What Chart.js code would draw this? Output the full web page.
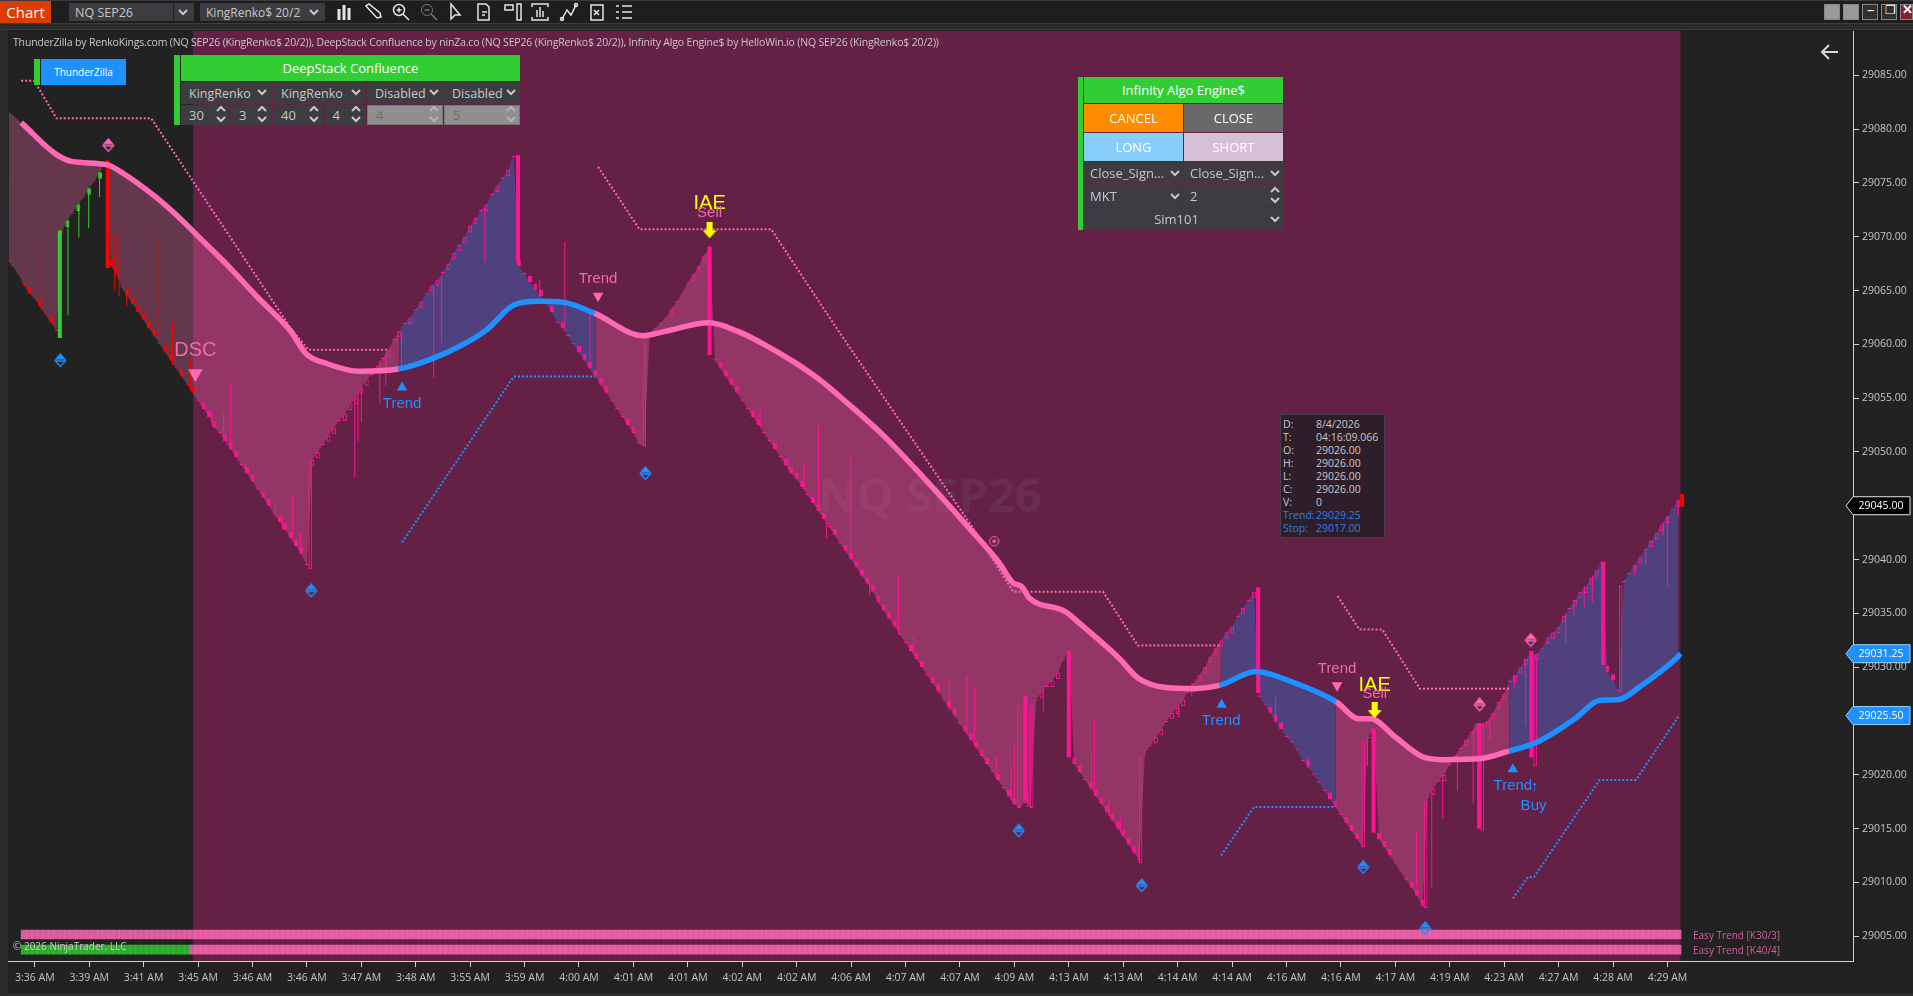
<!DOCTYPE html>
<html>
<head>
<meta charset="utf-8">
<title>NQ SEP26</title>
<script src="https://cdn.jsdelivr.net/npm/chart.js@4"></script>
<style>
  html, body { margin: 0; padding: 0; background: #222222; overflow: hidden; }
  body { width: 1913px; height: 996px; position: relative; font-family: "Open Sans", sans-serif; }
  canvas { position: absolute; left: 0; top: 0; }
  .b { position: absolute; display: flex; align-items: center; justify-content: center; white-space: nowrap; box-sizing: border-box; }
  .t { position: absolute; white-space: nowrap; }
  svg { position: absolute; }
</style>
</head>
<body>
<div class="b" style="left:0;top:0;width:8px;height:996px;background:#2b2b2b"></div>
<canvas id="chart" width="1913" height="996"></canvas>
<div id="ui"></div>
<script>
// bars are numbered so that bar 0 is the first tick on the time axis
const firstBar = -5;
const barClose = [
  29067.75,29067.25,29066.5,29065.5,29064.75,29064.25,29063.5,29062.75,29062,29061.25,
  29070.5,29071.5,29072.25,29073,29073.75,29074.5,29075.25,29076,29077,29067.25,
  29066.5,29065.25,29064.5,29063.75,29063,29062.25,29061.5,29060.75,29060,29059.25,
  29058.5,29057.75,29057,29056.25,29055.5,29054.75,29054,29053.25,29052.25,29051.75,
  29051,29050.25,29049.5,29048.75,29048,29047.25,29046.5,29045.75,29045,29044.25,
  29043.5,29042.75,29042,29041.25,29040.5,29039.5,29049.25,29050,29050.75,29051.5,
  29052.25,29053,29053.5,29054.5,29055,29056,29056.75,29057.25,29058,29058.75,
  29059.5,29060.5,29061.25,29062,29062.5,29063.25,29064,29064.75,29065.5,29066,
  29066.75,29067.5,29068.5,29069.25,29070,29071,29071.75,29072.5,29073,29074,
  29074.75,29075.5,29076.25,29077.5,29067.25,29066.5,29065.75,29065,29064.5,29063.75,
  29063,29062,29061.5,29060.75,29060,29059.25,29058.5,29057.75,29057,29056.25,
  29055.5,29054.75,29054,29053.25,29052.5,29051.75,29050.75,29050.5,29061,29061.5,
  29062,29062.5,29063.25,29064,29064.75,29065.75,29066.5,29067.25,29068.25,29069,
  29058.5,29057.75,29057,29056.25,29055.5,29054.75,29054,29053.25,29052.5,29051.75,
  29051,29050.25,29049.5,29048.75,29048,29047.5,29046.75,29046,29045.25,29044.5,
  29043.75,29043,29042.25,29041.5,29040.75,29040,29039.25,29038.5,29037.75,29037,
  29036,29035.25,29034.5,29033.75,29033,29032.25,29031.5,29030.75,29030,29029.25,
  29028.5,29027.75,29027,29026.25,29025.5,29024.75,29024,29023.25,29022.5,29021.75,
  29021,29020.25,29019.5,29018.75,29018,29017.25,29017,29017.5,29017,29027,
  29027.75,29028.25,29028.75,29029.5,29030.75,29031.5,29021,29020.25,29019.5,29018.75,
  29018,29017.25,29016.5,29015.75,29015,29014.25,29013.5,29012.75,29012,29022,
  29022.75,29023.5,29024.25,29025,29025.75,29026.25,29027,29027.75,29028.5,29029.25,
  29030,29031,29031.75,29032.5,29033.25,29033.75,29034.75,29035.5,29036.25,29037,
  29027.25,29026.5,29025.75,29025,29024.25,29023.5,29023,29022.25,29021.25,29020.75,
  29020,29019.25,29018.5,29017.75,29017,29016.25,29015.5,29014.75,29014,29013.25,
  29023.5,29024.25,29014,29013.25,29012.5,29011.75,29011,29010.25,29009.5,29008.75,
  29007.75,29018,29018.75,29019.5,29020,29021,29021.75,29022.5,29023.25,29024,
  29024.75,29024.75,29025,29025.75,29026.75,29027.5,29028.75,29029.25,29030,29030.75,
  29031.25,29031.25,29031.75,29032.75,29033.25,29033.75,29034.75,29035.5,29036.25,29037,
  29037.5,29038.25,29039,29039.75,29029.5,29028.75,29027.75,29038,29038.75,29039.5,
  29040.25,29041,29041.75,29042.5,29043.25,29044,29044.75,29045.5
];
// bars whose body is a real brick, everything else is only a dash
const boxBars = [-1,1,3,6,8,10,12,14,15,17,18,19,20,21,22,24,25,27,29,31,32,33,35,36,37,39,40,42,43,45,46,47,48,49,
  51,52,54,55,57,58,59,60,61,63,65,67,69,71,73,74,76,77,78,79,80,81,83,85,87,89,91,92,93,95,97,100,101,102,103,104,105,109,110,
  117,121,122,123,126,127,128,129,132,133,136,138,139,140,141,143,144,145,147,149,150,151,152,153,154,155,156,157,158,161,162,
  163,165,166,168,169,171,172,173,174,175,177,179,180,185,187,188,191,192,194,195,196,197,198,199,200,201,202,
  206,207,209,210,211,213,214,215,216,217,218,219,220,222,224,227,228,229,234,238,239,241,242,243,
  247,248,249,253,254,255,257,259,261,263,265,267,268,269,270,272,273,274,276,278,279,280,281,283,284,285,286,287,
  289,290,294,295,297,298,299,300,302];

const trendBars = [-4.8,-2.5,3.8,6.8,13.2,16.2,22.2,26.7,29.7,35.7,40.9,46.9,49.9,53.7,59.6,66.8,73.2,78.4,82.9,88.2,92.7,97.2,102.8,
  111.8,115.8,123.9,129.2,134,139.7,144.5,149.4,156.2,163.7,171.2,177.2,179.8,181.3,182.8,189.2,192.6,199.3,202.7,207.9,213.1,217.7,224.4,231.2,
  239.1,243.3,245.5,250,254.9,259,265.7,270.9,275.5,278.5,283,287.5,291.1,295,301.4,302.4];
const trendValues = [29081.6,29080.6,29077.7,29077,29076.7,29075.9,29073.7,29071.7,29070.2,29067.2,29064.4,29061.3,29059.1,29058.2,29057.5,29057.7,29058.7,29059.9,29061.3,29063.7,29064,29063.9,29062.9,
  29060.8,29061.2,29062,29061.2,29060,29058.3,29056.6,29054.5,29051.4,29047.4,29043.2,29039.7,29037.8,29037.5,29036.4,29035.2,29033.8,29030.8,29029,29028.1,29028,29028.3,29029.6,29028.6,
  29026.8,29025.2,29025.2,29023.5,29021.7,29021.4,29021.5,29022.2,29022.9,29023.7,29025.2,29026.9,29027,29028.2,29030.7,29031.25];
const trendUpFrom = [66.8,217.7,270.9];
const trendUpTo = [102.8,239.1,302.4];
const cloudLag = 0.7;

const solidBars = [4.6,13.4,88.8,124,182,190,224.8,246,265.4,275,288.2,302.7];
const solidLows = [29060.6,29067.1,29067.6,29059,29017.6,29021.6,29027.6,29014.6,29015,29021.6,29030.2,29044.9];
const solidHighs = [29070.6,29077.1,29077.6,29069.1,29027.3,29031.5,29037.4,29024.3,29024.8,29031.5,29039.8,29046.1];
const hollowBars = [50.6,112,180.8,183.2,203.2,244.1,255.6,266,275.7,291.4];
const hollowLows = [29039.1,29050.5,29016.9,29016.9,29011.8,29013.3,29007.6,29014.8,29020.8,29027.7];
const hollowHighs = [29049.1,29060.1,29026.5,29026.5,29021.6,29023.1,29017.5,29024.6,29031,29037.6];

const wickBars = [1.2,14.7,15.5,16.9,20.7,22.6,25.3,28.6,6.1,8.1,9.9,11.9,32.6,34.7,36,38.7,44.2,45.5,47.4,48.8,58.8,59.4,60,63.4,64.5,67.4,73.3,74.7,82.7,92.8,97.4,102,
  133.3,138.6,141.4,144,145.5,150,153.4,158.7,161.5,166,168,171.3,172.7,176.7,179.4,180,182.4,185.3,194.2,194.7,197.4,199.5,202.8,210.2,212.6,228,233.9,244.9,
  253.9,256.7,258.7,261.4,264.3,267.4,271.9,273.9,281.3,282.8,284.7,286.2,294,296,299.2,300,302];
const wickLows = [29063.2,29065,29064.5,29063.5,29061.5,29060.5,29058.1,29055.8,29062.7,29069.9,29070.8,29073.7,29052.5,29051,29050.2,29048,29044,29042.8,29041.8,29040.6,29047.6,29051,29052.8,29054.5,29056.2,29058,29056.9,29060.1,29067.6,29064.4,29061.2,29058,
  29052.3,29048.3,29046.5,29044.6,29042,29040,29036.7,29033,29031.1,29027.6,29026,29023.7,29022.6,29019.7,29017.6,29017.2,29017,29025.8,29018.6,29018.1,29016.1,29014.6,29012,29025.3,29027.3,29024.8,29020.6,29020.8,
  29009.6,29009.5,29016,29018.5,29017.3,29023.2,29028,29024.5,29032.3,29034.8,29035.5,29036,29038.5,29039.5,29042.3,29037.4,29044];
const wickHighs = [29068.8,29070.3,29070.3,29065,29069.5,29070,29062,29058.7,29071.6,29073.1,29074.5,29076,29053.7,29053.6,29056.5,29049,29045.2,29044,29046,29042.5,29055.1,29055.6,29056.1,29058.5,29059.5,29061,29065.4,29066.3,29072.7,29066,29069.5,29063,
  29054,29049.7,29049,29052.5,29043.5,29049.5,29038,29038.4,29033,29028.5,29029,29029.2,29028.2,29021.7,29020.8,29023,29018.5,29028,29022,29025.2,29017.7,29016,29013.5,29026.5,29028.5,29027.2,29021.7,29023.5,
  29014.6,29018.4,29020,29022,29024.2,29025.3,29029.2,29030.7,29035,29036,29037.5,29038.5,29039.5,29040.9,29043.5,29044,29045.5];

// dotted stop lines
const pinkStopBars = [[-2.5,-0.1,4,21.4,47.3,50.3,64.8],[103.5,111.1,135.3,147.6,172.7,179.8,196.3,202.7,217.7],[239.4,243.4,247.6,254.5,271]];
const pinkStopValues = [[29084.5,29084.5,29081,29081,29061.3,29059.5,29059.5],[29076.5,29070.7,29070.7,29061.3,29042.7,29037,29037,29032,29032],[29036.6,29033.5,29033.5,29028,29028]];
const blueStopBars = [[67.5,88,103],[218,224,238.7],[271.6,274.4,275.5,287.5,294.2,302]];
const blueStopValues = [[29041.6,29057,29057],[29012.5,29017,29017],[29008.5,29010.5,29010.5,29019.5,29019.5,29025.4]];

// markers on the chart
const blueDiamondBars = [4.7,50.8,112.2,180.8,203.4,244.1,255.5];
const blueDiamondPrices = [29058.5,29037.1,29048,29014.8,29009.7,29011.4,29005.7];
const pinkDiamondBars = [13.5,265.5,274.9];
const pinkDiamondPrices = [29078.5,29026.5,29032.5];
const targetBars = [176.3];
const targetPrices = [29041.7];
const downTriangleBars = [103.5,239.3];
const downTrianglePrices = [29064.5,29028.3];
const dscTriangleBars = [29.5];
const dscTrianglePrices = [29057.3];
const upTriangleBars = [67.5,218.1,271.6];
const upTrianglePrices = [29056,29026.5,29020.5];
const sellArrowBars = [124,246.2];
const sellArrowPrices = [29070.6,29026];

const labelTexts = ['DSC','Trend','Trend','IAE','Sell','Trend','Trend','IAE','Sell','Trend','Buy','↑'];
const labelBars = [29.5,67.5,103.5,124,124,218,239.3,246.2,246.2,271.6,275.4,275.6];
const labelPrices = [29059.4,29054.5,29066.1,29073.1,29072.2,29025,29029.8,29028.3,29027.5,29019,29017.1,29018.9];
const labelKinds = ['dsc','blue','pink','iae','sell','blue','pink','iae','sell','blue','blue','blue'];

const timeLabels = ['3:36 AM','3:39 AM','3:41 AM','3:45 AM','3:46 AM','3:46 AM','3:47 AM','3:48 AM','3:55 AM','3:59 AM','4:00 AM','4:01 AM','4:01 AM','4:02 AM','4:02 AM','4:06 AM',
  '4:07 AM','4:07 AM','4:09 AM','4:13 AM','4:13 AM','4:14 AM','4:14 AM','4:16 AM','4:16 AM','4:17 AM','4:19 AM','4:23 AM','4:27 AM','4:28 AM','4:29 AM'];
const priceTags = [29045,29031.25,29025.5];
const plumFromBar = 29.1;
const plumToBar = 302.4;
const stripFirstBar = -2;
const stripLastBar = 302;
const k40GreenToBar = 28;
const k30Band = [29004.7,29005.6];
const k40Band = [29003.3,29004.2];

const PINK = '#ff69b4', BLUE = '#1e90ff', DEEP = '#ff1493';

function xy(bars, vals) { return bars.map((x, i) => ({ x: x, y: vals[i] })); }
function floats(bars, lows, highs) { return bars.map((x, i) => ({ x: x, y: [lows[i], highs[i]] })); }
function isTrendUp(x) { return trendUpFrom.some((f, i) => x > f && x <= trendUpTo[i]); }
function barColor(x, up) {
  if (x < plumFromBar) return up ? '#32cd32' : '#ff0000';
  return DEEP;
}
function icon(w, h, draw) {
  const c = document.createElement('canvas');
  c.width = w; c.height = h;
  draw(c.getContext('2d'));
  return c;
}
function diamond(color) {
  return icon(13, 15, g => {
    g.strokeStyle = color; g.fillStyle = color; g.lineWidth = 1.3;
    g.beginPath(); g.moveTo(6.5, 1); g.lineTo(11.5, 6.5); g.lineTo(1.5, 6.5); g.closePath(); g.fill();
    g.beginPath(); g.moveTo(1.5, 8); g.lineTo(6.5, 13.5); g.lineTo(11.5, 8); g.closePath(); g.stroke();
    g.beginPath(); g.moveTo(1.5, 7); g.lineTo(6.5, 1); g.lineTo(11.5, 7); g.stroke();
  });
}
const targetIcon = icon(12, 12, g => {
  g.strokeStyle = PINK; g.fillStyle = PINK; g.lineWidth = 1;
  g.beginPath(); g.arc(6, 6, 4.6, 0, Math.PI * 2); g.stroke();
  g.beginPath(); g.arc(6, 6, 1.8, 0, Math.PI * 2); g.fill();
});
const sellArrowIcon = icon(14, 16, g => {
  g.fillStyle = '#ffff00';
  g.beginPath();
  g.moveTo(4, 0); g.lineTo(10, 0); g.lineTo(10, 8); g.lineTo(14, 8); g.lineTo(7, 16); g.lineTo(0, 8); g.lineTo(4, 8);
  g.closePath(); g.fill();
});

// per bar bodies from the closes
const bodyData = [], bodyFill = [], bodyBorder = [];
barClose.forEach((c, n) => {
  const x = firstBar + n;
  const up = n > 0 && c >= barClose[n - 1];
  const box = boxBars.includes(x);
  const col = barColor(x, up && box);
  const h = box ? 0.6 : 0.12;
  bodyData.push({ x: x, y: up ? [c - h, c] : [c, c + h] });
  bodyBorder.push(col);
  bodyFill.push(box && up && x >= plumFromBar ? 'transparent' : col);
});

const stripBars = [];
for (let x = stripFirstBar; x <= stripLastBar; x++) stripBars.push(x);

const stopDatasets = [];
pinkStopBars.forEach((b, i) => stopDatasets.push(stopLine(b, pinkStopValues[i], PINK)));
blueStopBars.forEach((b, i) => stopDatasets.push(stopLine(b, blueStopValues[i], BLUE)));
function stopLine(bars, vals, color) {
  return { type: 'line', data: xy(bars, vals), borderColor: color, borderWidth: 2, borderDash: [2, 2], pointRadius: 0, fill: false, order: 9 };
}
function markers(bars, vals, style, radius, color, rotation) {
  return { type: 'line', data: xy(bars, vals), showLine: false, pointStyle: style, pointRadius: radius, pointBackgroundColor: color, pointBorderColor: color,
    pointBorderWidth: 0, pointRotation: rotation || 0, order: 1 };
}

const datasets = [
  { type: 'line', label: 'Trend', data: xy(trendBars, trendValues), borderWidth: 5.5, borderColor: PINK, pointRadius: 0, fill: false, order: 3, cubicInterpolationMode: 'monotone',
    segment: { borderColor: c => c.p0.parsed.x < -3 ? 'transparent' : (isTrendUp(c.p1.parsed.x) ? BLUE : PINK) } },
  { type: 'line', label: 'Price', data: barClose.map((c, n) => ({ x: firstBar + n, y: c })), borderWidth: 0, borderColor: 'transparent', pointRadius: 0,
    backgroundColor: 'rgba(255,105,180,0.3)', fill: { target: 0 }, order: 10,
    segment: { backgroundColor: c => isTrendUp(c.p1.parsed.x - cloudLag) ? 'rgba(30,144,255,0.3)' : 'rgba(255,105,180,0.3)' } },
  ...stopDatasets,
  { type: 'bar', label: 'Easy Trend K30', data: stripBars.map(x => ({ x: x, y: k30Band })), backgroundColor: 'rgba(255,105,180,0.82)', barThickness: 6.2, order: 5, borderSkipped: false, inflateAmount: 0 },
  { type: 'bar', label: 'Easy Trend K40', data: stripBars.map(x => ({ x: x, y: k40Band })), backgroundColor: stripBars.map(x => x <= k40GreenToBar ? 'rgba(50,205,50,0.8)' : 'rgba(255,105,180,0.82)'), barThickness: 6.2, order: 5, borderSkipped: false, inflateAmount: 0 },
  { type: 'bar', label: 'Wicks', data: floats(wickBars, wickLows, wickHighs), backgroundColor: wickBars.map(x => barColor(x, x > 5 && x < 13)), barThickness: 1, order: 8, inflateAmount: 0 },
  { type: 'bar', label: 'Bodies', data: bodyData, backgroundColor: bodyFill, borderColor: bodyBorder, borderWidth: 1, borderSkipped: false, barThickness: 4, minBarLength: 1, order: 7, inflateAmount: 0 },
  { type: 'bar', label: 'Solid', data: floats(solidBars, solidLows, solidHighs), backgroundColor: solidBars.map(x => x < 5 ? '#32cd32' : (x < plumFromBar || x > plumToBar ? '#ff0000' : DEEP)), barThickness: 4, order: 6, inflateAmount: 0 },
  { type: 'bar', label: 'Hollow', data: floats(hollowBars, hollowLows, hollowHighs), backgroundColor: 'transparent', borderColor: DEEP, borderWidth: 1, borderSkipped: false, barThickness: 3.5, order: 6, inflateAmount: 0 },
  markers(blueDiamondBars, blueDiamondPrices, diamond(BLUE), 6, BLUE),
  markers(pinkDiamondBars, pinkDiamondPrices, diamond(PINK), 6, PINK),
  markers(targetBars, targetPrices, targetIcon, 6, PINK),
  markers(downTriangleBars, downTrianglePrices, 'triangle', 6.2, PINK, 180),
  markers(dscTriangleBars, dscTrianglePrices, 'triangle', 8.5, PINK, 180),
  markers(upTriangleBars, upTrianglePrices, 'triangle', 6, BLUE),
  markers(sellArrowBars, sellArrowPrices, sellArrowIcon, 7, '#ffff00')
];

const labelStyles = {
  dsc: { font: '20px "Liberation Sans"', color: '#ee6aa8' },
  blue: { font: '15px "Liberation Sans"', color: BLUE },
  pink: { font: '15px "Liberation Sans"', color: '#ee6aa8' },
  iae: { font: '20px "Liberation Sans"', color: '#ffff00' },
  sell: { font: '15px "Liberation Sans"', color: '#ee6aa8' }
};

const chartDressing = {
  id: 'chartDressing',
  beforeDatasetsDraw(chart) {
    const { ctx, chartArea: a, scales: { x, y } } = chart;
    ctx.save();
    const l = x.getPixelForValue(plumFromBar), r = x.getPixelForValue(plumToBar);
    ctx.fillStyle = '#652045';
    ctx.fillRect(l, a.top, r - l, a.bottom - a.top);
    ctx.fillStyle = 'rgba(140,140,140,0.13)';
    ctx.font = 'bold 47px "Open Sans"';
    ctx.textAlign = 'center';
    ctx.textBaseline = 'middle';
    ctx.fillText('NQ SEP26', x.getPixelForValue(164.5), y.getPixelForValue(29045.7));
    ctx.restore();
  },
  afterDraw(chart) {
    const { ctx, scales: { x, y } } = chart;
    ctx.save();
    ctx.textAlign = 'center';
    ctx.textBaseline = 'middle';
    labelTexts.forEach((t, i) => {
      const st = labelStyles[labelKinds[i]];
      ctx.font = st.font;
      ctx.fillStyle = st.color;
      ctx.fillText(t, x.getPixelForValue(labelBars[i]), y.getPixelForValue(labelPrices[i]));
    });
    // price markers on the axis
    priceTags.forEach((p, i) => {
      const py = y.getPixelForValue(p);
      ctx.beginPath();
      ctx.moveTo(1846, py); ctx.lineTo(1853, py - 9); ctx.lineTo(1910, py - 9); ctx.lineTo(1910, py + 9); ctx.lineTo(1853, py + 9);
      ctx.closePath();
      ctx.fillStyle = i === 0 ? '#000000' : BLUE;
      ctx.fill();
      ctx.strokeStyle = i === 0 ? '#e6e6e6' : '#9ccfff';
      ctx.lineWidth = 1;
      ctx.stroke();
      ctx.fillStyle = '#ffffff';
      ctx.font = '10.5px "Open Sans"';
      ctx.fillText(p.toFixed(2), 1881, py + 0.5);
    });
    ctx.restore();
  }
};

new Chart(document.getElementById('chart'), {
  type: 'bar',
  data: { datasets: datasets },
  plugins: [chartDressing],
  options: {
    responsive: false,
    devicePixelRatio: 1,
    animation: false,
    events: [],
    layout: { padding: { left: 8, top: 31, right: 0, bottom: 0 } },
    datasets: { bar: { grouped: false }, line: { tension: 0 } },
    plugins: { legend: { display: false }, tooltip: { enabled: false } },
    scales: {
      x: {
        type: 'linear', offset: false, min: -4.83, max: 334.1,
        grid: { offset: false, drawOnChartArea: false, tickLength: 6, color: '#cfcfcf' },
        border: { color: '#cfcfcf', width: 1 },
        afterBuildTicks: s => { s.ticks = timeLabels.map((_, i) => ({ value: i * 10 })); },
        afterFit: s => { s.height = 35; },
        ticks: { autoSkip: false, maxRotation: 0, padding: 5, color: '#c4c4c4', font: { family: '"Open Sans"', size: 10.5 },
          callback: v => timeLabels[v / 10] }
      },
      y: {
        position: 'right', min: 29002.69, max: 29089.12,
        grid: { drawOnChartArea: false, tickLength: 6, color: '#cfcfcf' },
        border: { color: '#cfcfcf', width: 1 },
        afterFit: s => { s.width = 60; },
        ticks: { stepSize: 5, includeBounds: false, padding: 3, color: '#c4c4c4', font: { family: '"Open Sans"', size: 10.5 },
          callback: v => v.toFixed(2) }
      }
    }
  }
});

// the screen furniture around the chart
const ui = document.getElementById('ui');
function box(x, y, w, h, bg, txt, color, size, extra) {
  const d = document.createElement('div');
  d.className = 'b';
  d.style.cssText = `left:${x}px;top:${y}px;width:${w}px;height:${h}px;background:${bg};color:${color || '#c8c8c8'};font-size:${size || 13}px;${extra || ''}`;
  if (txt) d.textContent = txt;
  ui.appendChild(d);
  return d;
}
function text(x, y, txt, color, size, extra) {
  const d = document.createElement('div');
  d.className = 't';
  d.style.cssText = `left:${x}px;top:${y}px;color:${color};font-size:${size}px;line-height:1;${extra || ''}`;
  d.textContent = txt;
  ui.appendChild(d);
}
function svg(x, y, w, h, inner) {
  ui.insertAdjacentHTML('beforeend', `<svg style="left:${x}px;top:${y}px" width="${w}" height="${h}" viewBox="0 0 ${w} ${h}">${inner}</svg>`);
}
function chevron(x, y, up, color) {
  const d = up ? 'M1 6 L5 2 L9 6' : 'M1 2 L5 6 L9 2';
  svg(x, y, 10, 8, `<path d="${d}" fill="none" stroke="${color || '#c8c8c8'}" stroke-width="2"/>`);
}
function spin(x, y, color) {
  chevron(x, y, true, color); chevron(x, y + 10, false, color);
}

// title bar
box(0, 0, 1913, 1, '#3a3a3a');
box(0, 1, 1913, 22, '#1e1e1e');
box(0, 23, 1913, 7, '#2b2b2b', '', '', '', 'border-top:1px solid #3c3c3c;border-bottom:1px solid #3c3c3c');
box(0, 993, 1913, 3, '#2b2b2b');
box(0, 1, 51, 22, '#dc3c00', 'Chart', '#ffffff', 15);
box(69, 3, 104, 18, '#3c3c41', 'NQ SEP26', '#c8c8c8', 12.5, 'justify-content:flex-start;padding-left:6px');
box(174, 3, 20, 18, '#3c3c41'); chevron(178, 8);
box(200, 3, 125, 18, '#3c3c41', 'KingRenko$ 20/2', '#c8c8c8', 12, 'justify-content:flex-start;padding-left:6px');
chevron(309, 8);
const W = 'stroke="#e4e4e4" fill="none" stroke-width="1.5"';
const toolIcons = [
  `<path d="M4 7v11M9 3v15M14 6v12" stroke="#e4e4e4" stroke-width="3"/>`,
  `<path d="M3 4l11 12 4-1-1-4L6 2z" ${W}/>`,
  `<circle cx="8" cy="8" r="5.5" ${W}/><path d="M12 12l6 6M5.5 8h5M8 5.5v5" ${W}/>`,
  `<circle cx="8" cy="8" r="5.5" stroke="#777" fill="none"/><path d="M12 12l6 6M5.5 8h5" stroke="#777" stroke-width="1.5"/>`,
  `<path d="M5 2v15l4-4 5 0z" ${W}/>`,
  `<path d="M4 2h8l3 3v13H4zM8 10h5M8 13h3" ${W}/>`,
  `<path d="M2 3h8v5H2zM14 2h4v16h-4z" ${W}/>`,
  `<path d="M2 5V2h16v3M2 15v3h16v-3M7 15V8M10 15V5M13 15V9" ${W}/>`,
  `<path d="M3 17L8 8l4 5 5-10" ${W}/><circle cx="3" cy="17" r="1.5" ${W}/><circle cx="17" cy="3" r="1.5" ${W}/>`,
  `<path d="M4 3h12v15H4zM7 8l5 5M12 8l-5 5" ${W}/>`,
  `<path d="M2 4h3M2 10h3M2 16h3M8 4h10M8 10h10M8 16h10" ${W}/>`
];
[335, 363, 391, 419, 446, 474, 503, 530, 559, 587, 614].forEach((x, i) => svg(x, 2, 20, 20, toolIcons[i]));
[[1824, '#9a9a9a'], [1843, '#9a9a9a'], [1862, '#303030'], [1881, '#303030'], [1900, '#8a1f2a']].forEach(p => box(p[0], 4, p[0] === 1900 ? 13 : 16, 16, p[1], '', '', '', 'border:1px solid #888'));
text(1867, 2, '–', '#ffffff', 15);
text(1885, 4, '❐', '#ffffff', 12);
text(1902, 3, '✕', '#ffffff', 13, 'font-weight:bold');

// indicator captions
text(13, 37, 'ThunderZilla by RenkoKings.com (NQ SEP26 (KingRenko$ 20/2)), DeepStack Confluence by ninZa.co (NQ SEP26 (KingRenko$ 20/2)), Infinity Algo Engine$ by HelloWin.io (NQ SEP26 (KingRenko$ 20/2))', '#c8c8c8', 10.5, 'letter-spacing:-0.17px');
text(13, 941, '© 2026 NinjaTrader, LLC', '#c8c8c8', 10);
text(1693, 930, 'Easy Trend [K30/3]', '#d0609c', 10);
text(1693, 945, 'Easy Trend [K40/4]', '#d0609c', 10);
svg(1820, 42, 20, 20, `<path d="M2 10h16M9 3l-7 7 7 7" fill="none" stroke="#d8d8d8" stroke-width="2"/>`);

// ThunderZilla button
box(34, 59, 6, 26, '#32cd32');
box(41, 59, 85, 26, BLUE, 'ThunderZilla', '#ffffff', 10);

// DeepStack Confluence panel
box(174, 55, 6, 70, '#32cd32');
box(181, 55, 339, 26, '#32cd32', 'DeepStack Confluence', '#ffffff', 13);
const dsDrops = [[181, 90, 'KingRenko'], [273, 92, 'KingRenko'], [367, 76, 'Disabled'], [444, 76, 'Disabled']];
dsDrops.forEach(c => {
  box(c[0], 82, c[1], 22, '#3c3c41', c[2], '#c8c8c8', 12.5, 'justify-content:flex-start;padding-left:8px');
  chevron(c[0] + c[1] - 14, 88);
});
const dsSpins = [[181, 49, '30'], [231, 40, '3'], [273, 50, '40'], [324.5, 40.5, '4']];
dsSpins.forEach(c => {
  box(c[0], 105, c[1], 20, '#3c3c41', c[2], '#c8c8c8', 13, 'justify-content:flex-start;padding-left:8px');
  spin(c[0] + c[1] - 14, 105);
});
[[367, 76, '4'], [444, 76, '5']].forEach(c => {
  box(c[0], 105, c[1], 20, '#8f8f8f', c[2], '#6e6e6e', 13, 'justify-content:flex-start;padding-left:8px;border:1px solid #777');
  spin(c[0] + c[1] - 14, 105, '#b4b4b4');
});

// Infinity Algo Engine panel
box(1077.5, 77, 5.5, 153, '#32cd32');
box(1084, 77, 199, 26, '#32cd32', 'Infinity Algo Engine$', '#ffffff', 13);
box(1084, 104, 99, 28, '#ff8c00', 'CANCEL', '#ffffff', 13);
box(1184, 104, 99, 28, '#696969', 'CLOSE', '#ffffff', 13);
box(1084, 133, 99, 28, '#87cefa', 'LONG', '#ffffff', 13);
box(1184, 133, 99, 28, '#d8bfd8', 'SHORT', '#ffffff', 13);
box(1084, 162, 99, 22, '#3c3c41', 'Close_Sign...', '#c8c8c8', 13, 'justify-content:flex-start;padding-left:6px');
box(1184, 162, 99, 22, '#3c3c41', 'Close_Sign...', '#c8c8c8', 13, 'justify-content:flex-start;padding-left:6px');
box(1084, 185, 99, 22, '#3c3c41', 'MKT', '#c8c8c8', 13, 'justify-content:flex-start;padding-left:6px');
box(1184, 185, 99, 22, '#3c3c41', '2', '#c8c8c8', 13, 'justify-content:flex-start;padding-left:6px');
box(1084, 208, 199, 22, '#3c3c41', 'Sim101', '#c8c8c8', 13, 'padding-right:14px');
chevron(1170, 169); chevron(1270, 169); chevron(1170, 192); spin(1270, 186); chevron(1270, 215);

// data box next to the crosshair
box(1279.5, 414, 105, 124, '#2e1e2a', '', '', '', 'border:1px solid #474047');
const infoKeys = ['D:', 'T:', 'O:', 'H:', 'L:', 'C:', 'V:', 'Trend:', 'Stop:'];
const infoVals = ['8/4/2026', '04:16:09.066', '29026.00', '29026.00', '29026.00', '29026.00', '0', '29029.25', '29017.00'];
infoKeys.forEach((k, i) => {
  const col = i > 6 ? '#2b80e6' : '#c8c8c8';
  text(1283, 419 + i * 13, k, col, 10.5);
  text(1316, 419 + i * 13, infoVals[i], col, 10.5);
});
</script>
</body>
</html>
